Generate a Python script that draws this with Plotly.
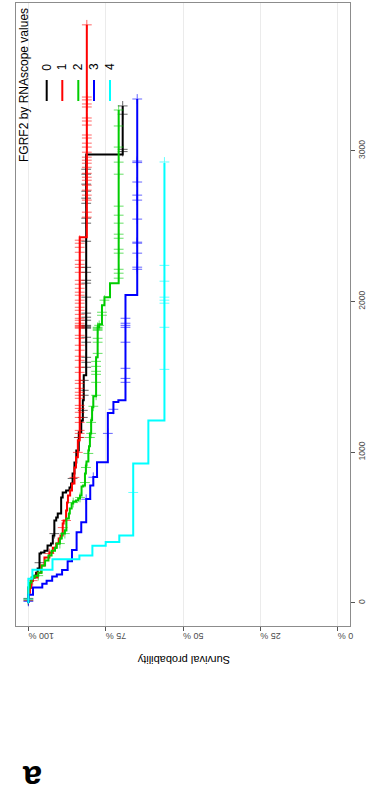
import numpy as np
import plotly.graph_objects as go

# ---------------- data ----------------
groups = ["0", "1", "2", "3", "4"]
colors = ["#000000", "#FF0000", "#00CD00", "#0000FF", "#00FFFF"]

# Kaplan-Meier steps: time (days) at which survival (%) drops to the given value
t0 = [0, 102, 148, 168, 181, 201, 228, 328, 334, 347, 381, 394, 447, 547, 567, 593,
      700, 733, 746, 766, 793, 859, 932, 1012, 1132, 1211, 1345, 1511, 2975]
s0 = [100, 99.1, 98.6, 98.1, 97.5, 97.0, 96.4, 95.9, 94.8, 93.8, 92.7, 92.1, 91.6, 91.0, 90.5, 89.4,
      88.9, 87.8, 86.7, 86.2, 85.7, 85.1, 84.5, 83.7, 82.9, 82.4, 82.1, 81.3, 69.5]
end0 = 3298

t1 = [0, 68, 102, 148, 168, 201, 248, 301, 334, 367, 394, 427, 447, 527, 547, 613,
      666, 713, 746, 793, 899, 966, 1079, 2427]
s1 = [100, 99.5, 99.1, 98.6, 97.0, 95.9, 94.8, 93.2, 92.1, 91.0, 90.2, 89.6, 88.9, 88.6, 87.8, 87.5,
      87.2, 86.5, 85.9, 85.1, 84.6, 84.0, 83.4, 81.1]
end1 = 3836

t2 = [0, 102, 135, 168, 181, 201, 248, 281, 314, 347, 367, 394, 427, 460, 480, 560, 593,
      627, 660, 673, 680, 693, 713, 773, 779, 859, 912, 939, 1012, 1039, 1125, 1212, 1298,
      1371, 1631, 1830, 1850, 1975, 2029, 2122]
s2 = [100, 99.5, 99.0, 97.9, 96.8, 95.7, 94.6, 93.5, 92.5, 91.4, 90.8, 89.8, 89.2, 88.2, 87.7, 86.9, 86.6,
      86.0, 85.5, 84.6, 83.9, 83.3, 82.8, 82.3, 81.7, 81.4, 81.2, 80.6, 80.4, 80.1, 79.7, 79.4, 79.0,
      78.1, 77.6, 77.1, 76.2, 75.4, 73.6, 70.8]
end2 = 3271

t3 = [0, 55, 102, 128, 148, 175, 188, 219, 276, 352, 469, 536, 690, 779, 835, 934, 1260, 1333, 1345, 2043]
s3 = [100, 98.5, 95.5, 94.1, 92.3, 90.8, 89.1, 87.3, 85.9, 84.4, 82.9, 81.3, 80.0, 79.0, 77.8, 74.3, 72.5, 70.9, 68.6, 64.8]
end3 = 3344

t4 = [0, 160, 221, 290, 315, 380, 405, 447, 925, 1211]
s4 = [100, 98.7, 92.2, 83.5, 79.3, 75.0, 70.6, 66.1, 61.2, 56.0]
end4 = 2920

# censoring times (days)
c0 = [15, 30, 267, 460, 826, 1098, 1231, 1278, 1378, 1411, 1477, 1564, 1597, 1630, 1730, 1763,
      1823, 1829, 1836, 1842, 1876, 1896, 1923, 2029, 2122, 2141, 2194, 2227, 2400, 2520, 2553,
      2652, 2686, 2732, 2779, 2845, 2878, 2995, 3010, 3243, 3298]
c1 = [20, 148, 328, 500, 547, 833, 999, 1098, 1125, 1145, 1198, 1231, 1265, 1291, 1311, 1358, 1378,
      1398, 1424, 1457, 1477, 1530, 1564, 1610, 1637, 1677, 1710, 1756, 1776, 1823, 1829, 1836,
      1842, 1856, 1876, 1889, 1915, 1942, 1962, 1989, 2009, 2042, 2062, 2088, 2115, 2141, 2194,
      2227, 2247, 2274, 2327, 2360, 2387, 2407, 2560, 2593, 2673, 2706, 2739, 2772, 2805, 2825,
      2851, 2891, 2918, 2938, 2958, 2991, 3025, 3051, 3085, 3105, 3171, 3198, 3218, 3291, 3311,
      3338, 3357, 3836]
c2 = [25, 181, 394, 460, 666, 700, 799, 899, 992, 1098, 1125, 1198, 1305, 1378, 1464, 1517, 1537,
      1570, 1603, 1656, 1730, 1756, 1809, 1816, 1823, 1829, 1842, 1909, 1929, 2009, 2155, 2188,
      2214, 2321, 2347, 2420, 2447, 2520, 2573, 2633, 2845, 2925, 3025, 3165, 3271]
c3 = [10, 688, 834, 1125, 1285, 1464, 1490, 1557, 1730, 1829, 1842, 1856, 1889, 2214, 2228, 2321,
      2387, 2394, 2547, 2673, 2706, 2793, 2922, 2932, 3344]
c4 = [25, 733, 1550, 1829, 1989, 2009, 2029, 2135, 2240, 2926]

steps_t = [t0, t1, t2, t3, t4]
steps_s = [s0, s1, s2, s3, s4]
ends = [end0, end1, end2, end3, end4]
cens = [c0, c1, c2, c3, c4]

x_ticks = [0, 25, 50, 75, 100]
x_ticklabels = ["0 %", "25 %", "50 %", "75 %", "100 %"]
y_ticks = [0, 1000, 2000, 3000]
y_ticklabels = ["0", "1000", "2000", "3000"]

legend_title = "FGRF2 by RNAscope values"
x_title = "Survival probability"
panel_label = "a"

# ---------------- geometry helpers ----------------
W, H = 379, 796
PL, PR, PT, PB = 16, 350, 3, 626


def px(x):
    return (x - PL) / (PR - PL)


def py(y):
    return (PB - y) / (PB - PT)


FONT = "Liberation Sans, Arial, sans-serif"

fig = go.Figure()

for g, ts, ss, e, cs, col in zip(groups, steps_t, steps_s, ends, cens, colors):
    ts = np.asarray(ts, float)
    ss = np.asarray(ss, float)
    xs = np.append(ss, ss[-1])
    ys = np.append(ts, e)
    fig.add_trace(go.Scatter(x=xs, y=ys, mode="lines", line=dict(color=col, width=2, shape="vh"),
                             showlegend=False, hoverinfo="skip"))
    ct = np.asarray(cs, float)
    idx = np.searchsorted(ts, ct, side="right") - 1
    fig.add_trace(go.Scatter(x=ss[idx], y=ct, mode="markers",
                             marker=dict(symbol="cross-thin", size=7, opacity=0.6,
                                         line=dict(color=col, width=1)),
                             showlegend=False, hoverinfo="skip"))

shapes = []
annotations = []

# legend (drawn rotated, as in the reference)
leg_x = [46.7, 62.3, 78.3, 94.0, 110.0]
for g, col, lx in zip(groups, colors, leg_x):
    shapes.append(dict(type="line", xref="paper", yref="paper", x0=px(lx), x1=px(lx),
                       y0=py(80), y1=py(101), line=dict(color=col, width=2)))
    annotations.append(dict(text=g, xref="paper", yref="paper", x=px(lx), y=py(67),
                            showarrow=False, textangle=-90, xanchor="center", yanchor="middle",
                            font=dict(family=FONT, size=12, color="#000000")))
annotations.append(dict(text=legend_title, xref="paper", yref="paper", x=px(24), y=py(85),
                        showarrow=False, textangle=-90, xanchor="center", yanchor="middle",
                        font=dict(family=FONT, size=12, color="#000000")))

annotations.append(dict(text=x_title, xref="paper", yref="paper", x=px(183.5), y=py(660),
                        showarrow=False, textangle=180, xanchor="center", yanchor="middle",
                        font=dict(family=FONT, size=11, color="#000000")))
annotations.append(dict(text="<b>" + panel_label + "</b>", xref="paper", yref="paper", x=px(32), y=py(778),
                        showarrow=False, textangle=180, xanchor="center", yanchor="middle",
                        font=dict(family=FONT, size=34, color="#000000")))

fig.update_layout(
    width=W, height=H, autosize=False,
    margin=dict(l=PL, r=W - PR, t=PT, b=H - PB, pad=0),
    paper_bgcolor="white", plot_bgcolor="white",
    shapes=shapes, annotations=annotations,
    xaxis=dict(range=[104, -4], tickvals=x_ticks, ticktext=x_ticklabels, tickangle=180,
               ticks="outside", ticklen=4, tickcolor="#555555", showgrid=True,
               gridcolor="#EBEBEB", gridwidth=1.2, zeroline=False, showline=True, mirror=True,
               linecolor="#8C8C8C", linewidth=1,
               tickfont=dict(family=FONT, size=9, color="#4D4D4D")),
    yaxis=dict(range=[-153, 3981], side="right", tickvals=y_ticks, ticktext=y_ticklabels,
               tickangle=-90, ticks="outside", ticklen=4, tickcolor="#555555", showgrid=False,
               zeroline=False, showline=True, mirror=True, linecolor="#8C8C8C", linewidth=1,
               tickfont=dict(family=FONT, size=8.5, color="#4D4D4D")),
)

fig.write_html("out.html")
